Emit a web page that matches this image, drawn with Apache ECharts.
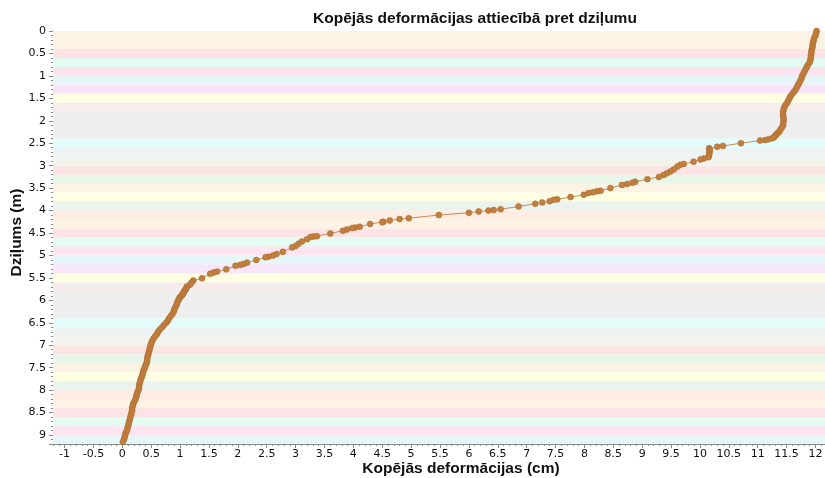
<!DOCTYPE html>
<html>
<head>
<meta charset="utf-8">
<script src="https://cdn.jsdelivr.net/npm/echarts@6/dist/echarts.min.js"></script>
<style>html,body{margin:0;padding:0;background:#fff}#c{width:825px;height:478px}</style>
</head>
<body>
<div id="c"></div>
<script>
// ---------- DATA ----------
const chartTitle = 'Kopējās deformācijas attiecībā pret dziļumu';
const xAxisName = 'Kopējās deformācijas (cm)';
const yAxisName = 'Dziļums (m)';
const xTickValues = [-1,-0.5,0,0.5,1,1.5,2,2.5,3,3.5,4,4.5,5,5.5,6,6.5,7,7.5,8,8.5,9,9.5,10,10.5,11,11.5,12];

const depthM = [
  0.00,0.05,0.10,0.15,0.20,0.25,0.30,0.35,0.40,0.45,
  0.50,0.55,0.60,0.65,0.70,0.75,0.80,0.85,0.90,0.95,
  1.00,1.05,1.10,1.15,1.20,1.25,1.30,1.35,1.40,1.45,
  1.50,1.55,1.60,1.65,1.70,1.75,1.80,1.85,1.90,1.95,
  2.00,2.05,2.10,2.15,2.20,2.25,2.28,2.31,2.34,2.37,
  2.39,2.41,2.43,2.44,
  2.50,2.56,2.58,2.61,2.64,2.68,2.72,2.76,2.81,2.84,
  2.86,2.91,2.96,2.98,3.02,3.08,3.13,3.17,3.21,3.25,
  3.30,3.36,3.38,3.41,3.43,3.50,3.56,3.57,3.59,3.61,
  3.65,3.70,3.75,3.76,3.79,3.82,3.85,3.91,3.97,3.99,
  4.00,4.02,4.05,4.10,4.17,4.19,4.22,4.25,4.26,4.30,
  4.36,4.38,4.39,4.42,4.45,4.51,4.57,4.58,4.59,4.64,
  4.69,4.74,4.79,4.82,4.92,4.97,5.00,5.03,5.04,5.10,
  5.16,5.19,5.21,5.23,5.31,5.36,5.38,5.41,
  5.51,5.56,5.60,5.65,5.69,5.72,5.75,5.78,5.80,5.83,
  5.85,5.88,5.90,5.93,5.95,5.98,6.00,6.05,6.10,6.15,
  6.20,6.25,6.30,6.35,6.40,6.45,6.50,6.55,6.60,6.65,
  6.70,6.75,6.80,6.85,6.90,6.95,7.00,7.05,7.10,7.15,
  7.20,7.25,7.30,7.35,7.40,7.45,7.50,7.55,7.60,7.65,
  7.70,7.75,7.80,7.85,7.90,7.95,8.00,8.05,8.10,8.15,
  8.20,8.25,8.30,8.35,8.40,8.45,8.50,8.55,8.60,8.65,
  8.70,8.75,8.80,8.85,8.90,8.95,9.00,9.05,9.10,9.15];
const deformCm = [
  12.02,12.01,12.00,11.98,11.97,11.96,11.95,11.95,11.94,11.93,
  11.93,11.92,11.92,11.91,11.90,11.87,11.85,11.83,11.81,11.79,
  11.77,11.76,11.74,11.72,11.70,11.68,11.66,11.63,11.60,11.57,
  11.55,11.53,11.51,11.48,11.46,11.45,11.44,11.44,11.44,11.45,
  11.45,11.44,11.44,11.42,11.39,11.37,11.34,11.32,11.30,11.28,
  11.25,11.19,11.13,11.04,
  10.71,10.40,10.30,10.16,10.17,10.17,10.16,10.16,10.15,10.07,
  10.01,9.89,9.72,9.66,9.61,9.55,9.49,9.43,9.37,9.29,
  9.09,8.88,8.83,8.74,8.65,8.45,8.28,8.22,8.15,8.07,
  7.99,7.76,7.53,7.47,7.40,7.27,7.15,6.86,6.55,6.43,
  6.34,6.17,6.00,5.48,4.96,4.80,4.63,4.52,4.50,4.29,
  4.11,4.03,3.98,3.89,3.82,3.60,3.37,3.31,3.26,3.20,
  3.11,3.05,3.00,2.94,2.78,2.67,2.61,2.53,2.48,2.32,
  2.16,2.10,2.04,1.96,1.80,1.64,1.58,1.52,
  1.38,1.23,1.20,1.17,1.12,1.11,1.10,1.08,1.07,1.06,
  1.05,1.04,1.02,1.00,0.99,0.98,0.97,0.95,0.94,0.92,
  0.90,0.89,0.87,0.84,0.81,0.79,0.76,0.72,0.69,0.65,
  0.62,0.60,0.57,0.54,0.52,0.50,0.49,0.48,0.47,0.46,
  0.45,0.44,0.43,0.43,0.42,0.40,0.39,0.37,0.36,0.35,
  0.34,0.32,0.31,0.30,0.29,0.29,0.28,0.26,0.25,0.24,
  0.23,0.21,0.19,0.18,0.17,0.17,0.16,0.15,0.14,0.13,
  0.12,0.11,0.10,0.09,0.08,0.06,0.05,0.04,0.03,0.01];

// soil layers (depth bands, m)
const layerTop = [0,0.4,0.6,0.8,1.0,1.2,1.4,1.6,1.8,2.4,2.6,2.8,3.0,3.2,3.4,3.6,3.8,4.0,4.2,4.4,4.6,4.8,5.0,5.2,5.4,5.6,5.8,6.4,6.6,6.8,7.0,7.2,7.4,7.6,7.8,8.0,8.2,8.4,8.6,8.8,9.0];
const layerBottom = [0.4,0.6,0.8,1.0,1.2,1.4,1.6,1.8,2.4,2.6,2.8,3.0,3.2,3.4,3.6,3.8,4.0,4.2,4.4,4.6,4.8,5.0,5.2,5.4,5.6,5.8,6.4,6.6,6.8,7.0,7.2,7.4,7.6,7.8,8.0,8.2,8.4,8.6,8.8,9.0,9.2];
const layerKind = ['cream','pink','mint','pink2','cyan','magenta','yellow','pinkgrey','grey','cyan2','lightgrey','greycream','rose','green','cream','yellow','greengrey','peach','cream','pink','mint','pink2','cyan','magenta','yellow','pinkgrey','grey','cyan2','lightgrey','greycream','rose','green','cream','yellow','greengrey','peach','cream','pink','mint','pink2','cyan'];

// ---------- STYLE ----------
const layerColors = {
  cream:'#FDF3E5', pink:'#FDE3E5', mint:'#E3FCF1', pink2:'#FCE4F0', cyan:'#E6F6F8',
  magenta:'#F9E5FA', yellow:'#FEFEE2', pinkgrey:'#F6ECEC', grey:'#EFEFEF', cyan2:'#E3FCFC',
  lightgrey:'#EDF2F2', greycream:'#F3F3EE', rose:'#FDE4E4', green:'#E8F6EA', greengrey:'#EAF3EE', peach:'#FDEDE3'
};
const tickFont = {fontFamily:'DejaVu Sans, Verdana, sans-serif', fontSize:11, color:'#111'};
const nameFont = {fontFamily:'Liberation Sans, Arial, sans-serif', fontSize:15.5, fontWeight:'bold', color:'#111'};
const axisColor = '#8a8a8a';

const minorX = [];
for (let i = -12; i <= 122; i++) minorX.push(i / 10);

const points = deformCm.map((v, i) => [v, depthM[i]]);
const areas = layerTop.map((t, i) => [
  {yAxis: t, itemStyle: {color: layerColors[layerKind[i]]}},
  {yAxis: layerBottom[i]}
]);

const chart = echarts.init(document.getElementById('c'), null, {renderer:'canvas'});
chart.setOption({
  animation: false,
  title: {
    text: chartTitle, left: 308, top: 6,
    textStyle: {fontFamily:'Liberation Sans, Arial, sans-serif', fontSize:15.5, fontWeight:'bold', color:'#111'}
  },
  grid: {left: 53, top: 31, width: 774, height: 413, outerBoundsMode: 'none', containLabel: false},
  xAxis: [{
    type: 'value', min: -1.2, max: 12.2,
    name: xAxisName, nameLocation: 'middle', nameGap: 17, nameMoveOverlap: false,
    nameTextStyle: Object.assign({padding:[0,0,0,42]}, nameFont),
    axisLine: {show: true, onZero: false, lineStyle: {color: axisColor}},
    axisTick: {show: true, customValues: xTickValues, length: 4, lineStyle: {color: axisColor}},
    axisLabel: Object.assign({customValues: xTickValues, margin: 5}, tickFont),
    splitLine: {show: false}
  }, {
    type: 'value', min: -1.2, max: 12.2, position: 'bottom',
    axisLine: {show: false, onZero: false},
    axisTick: {show: true, customValues: minorX, length: 2, lineStyle: {color: axisColor}},
    axisLabel: {show: false},
    splitLine: {show: false}
  }],
  yAxis: {
    type: 'value', inverse: true, min: 0, max: 9.2, interval: 0.5,
    name: yAxisName, nameLocation: 'middle', nameGap: 28, nameMoveOverlap: false,
    nameTextStyle: Object.assign({padding:[0,0,0,10]}, nameFont),
    axisLine: {show: true, onZero: false, lineStyle: {color: axisColor}},
    axisTick: {show: true, length: 4, lineStyle: {color: axisColor}},
    minorTick: {show: true, splitNumber: 5, length: 2, lineStyle: {color: axisColor}},
    axisLabel: Object.assign({margin: 7, showMaxLabel: false}, tickFont),
    splitLine: {show: false}, minorSplitLine: {show: false}
  },
  series: [{
    type: 'line', data: [], z: 1, silent: true,
    markArea: {silent: true, data: areas}
  }, {
    type: 'line', data: points, z: 3,
    symbol: 'circle', symbolSize: 6, showSymbol: true,
    lineStyle: {color: '#C98D57', width: 1},
    itemStyle: {color: '#C2803F', borderColor: '#A8692F', borderWidth: 0.5}
  }]
});
</script>
</body>
</html>
